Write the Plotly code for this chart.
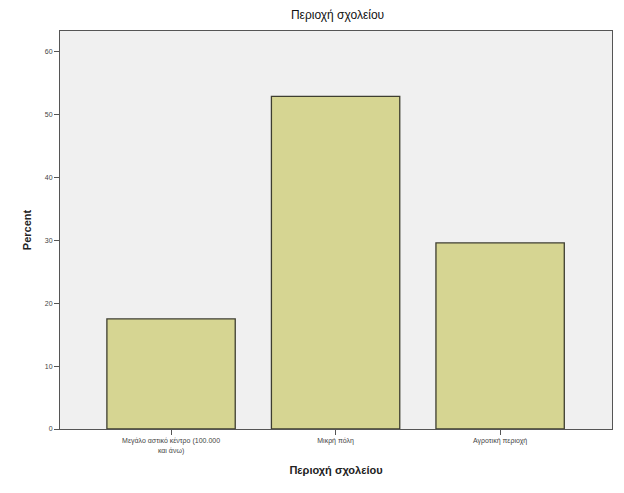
import plotly.graph_objects as go

categories = ["Μεγάλο αστικό κέντρο (100.000<br>και άνω)", "Μικρή πόλη", "Αγροτική περιοχή"]
percents = [17.5, 52.9, 29.6]
y_ticks = [0, 10, 20, 30, 40, 50, 60]

fig = go.Figure(go.Bar(
    x=list(range(len(categories))),
    y=percents,
    width=0.78,
    marker=dict(color="#d6d592", line=dict(color="#3e3e30", width=1.3)),
))

fig.update_layout(
    width=616, height=485,
    margin=dict(l=52, r=12, t=23, b=64),
    paper_bgcolor="white",
    plot_bgcolor="#f0f0f0",
    font=dict(family="Liberation Sans, Arial, sans-serif", color="#222"),
    title=dict(text="Περιοχή σχολείου", x=0.535, xanchor="center", y=0.985, yanchor="middle",
               font=dict(size=12, color="#111")),
    showlegend=False,
)
fig.update_xaxes(
    range=[-0.675, 2.68],
    tickmode="array", tickvals=list(range(len(categories))), ticktext=categories,
    ticks="outside", ticklen=5, tickcolor="#555",
    tickfont=dict(size=7, color="#444"),
    showline=True, linecolor="#555", linewidth=1, mirror=True,
    showgrid=False, zeroline=False,
    title=dict(text="<b>Περιοχή σχολείου</b>", font=dict(size=11, color="#222"), standoff=12),
)
fig.update_yaxes(
    range=[0, 63.3],
    tickmode="array", tickvals=y_ticks,
    ticks="outside", ticklen=5, tickcolor="#555",
    tickfont=dict(size=7, color="#444"),
    showline=True, linecolor="#555", linewidth=1, mirror=True,
    showgrid=False, zeroline=False,
    title=dict(text="<b>Percent</b>", font=dict(size=11, color="#222"), standoff=10),
)

fig.write_html("out.html")
